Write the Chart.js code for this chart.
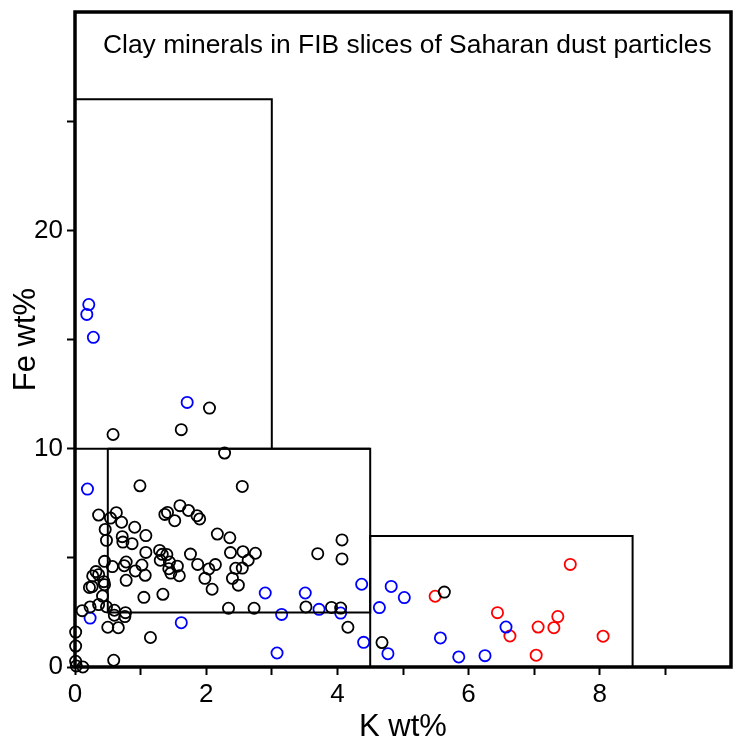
<!DOCTYPE html>
<html>
<head>
<meta charset="utf-8">
<script src="https://cdn.jsdelivr.net/npm/chart.js@4.4.0/dist/chart.umd.min.js"></script>
<style>
  body { margin: 0; background: #fff; }
  #wrap { width: 733px; height: 754px; }
</style>
</head>
<body>
<div id="wrap"><canvas id="myChart" width="733" height="754"></canvas></div>
<script>
// Datos (K wt%, Fe wt%)
const blackK = [0.58, 1.62, 2.05, 2.28, 0.99, 2.55, 0.36, 0.63, 0.54, 0.71, 0.46, 0.48, 0.72, 0.73, 0.87, 0.91,
  1.08, 1.08, 1.37, 1.41, 1.52, 1.60, 1.73, 1.86, 1.90, 2.17, 2.36, 2.37, 2.56, 2.75, 2.64, 2.45, 2.55, 2.40, 2.49,
  3.70, 4.07, 4.07, 1.76, 1.29, 1.33, 1.40, 1.30, 1.44, 1.56, 1.43, 1.46, 1.59, 1.87, 2.04, 2.14, 1.98, 2.09,
  1.02, 1.07, 0.92, 0.78, 0.75, 0.78, 0.57, 0.45, 0.32, 0.27, 0.36, 0.44, 0.45, 0.22, 0.26, 0.42, 0.36, 0.23,
  0.48, 0.11, 0.60, 0.60, 0.77, 0.76, 0.50, 0.66, 1.05, 1.34, 1.15, 0.59, 0.01, 0.01, 0.01, 0.02, 0.12,
  2.34, 2.73, 3.52, 3.91, 4.05, 4.16, 5.63, 4.68];
const blackFe = [10.65, 10.87, 11.86, 9.8, 8.3, 8.27, 6.96, 7.07, 6.82, 6.63, 6.3, 5.8, 5.97, 5.72, 5.65, 6.4,
  6.02, 5.25, 6.99, 7.08, 6.7, 7.39, 7.17, 6.93, 6.78, 6.09, 5.92, 5.24, 5.28, 5.21, 4.89, 4.52, 4.53, 4.06, 3.75,
  5.19, 5.82, 4.95, 5.17, 5.34, 5.16, 5.15, 4.89, 4.81, 4.62, 4.50, 4.30, 4.18, 4.70, 4.49, 4.69, 4.06, 3.56,
  4.67, 4.20, 4.40, 4.81, 4.64, 3.97, 4.60, 4.84, 4.37, 4.17, 4.23, 3.91, 3.77, 3.64, 3.68, 3.25, 2.86, 2.75,
  2.76, 2.58, 2.60, 2.37, 2.49, 2.31, 1.82, 1.80, 3.19, 3.33, 1.35, 0.31, 1.60, 0.96, 0.26, 0.05, 0.00,
  2.69, 2.69, 2.75, 2.73, 2.70, 1.82, 3.43, 1.12];

const blueK = [0.21, 0.18, 0.28, 1.71, 0.19, 0.23, 1.62, 2.90, 3.15, 3.08, 3.51, 3.72, 4.05, 4.37, 4.40, 4.64,
  4.82, 5.02, 4.77, 5.57, 5.85, 6.25, 6.57];
const blueFe = [16.6, 16.15, 15.1, 12.12, 8.15, 2.24, 2.03, 3.39, 2.41, 0.64, 3.39, 2.64, 2.47, 3.79, 1.13, 2.72,
  3.69, 3.18, 0.61, 1.33, 0.46, 0.52, 1.83];

const redK = [5.49, 7.55, 6.44, 6.63, 7.06, 7.03, 7.30, 7.36, 8.05];
const redFe = [3.24, 4.70, 2.49, 1.42, 1.83, 0.54, 1.80, 2.31, 1.41];

// Recuadros de los campos de minerales
const box1K = [0, 0, 3, 3];
const box1Fe = [10, 26, 26, 10];
const box2K = [0.5, 0.5, 4.5, 4.5, 0.5];
const box2Fe = [10, 2.5, 2.5, 10, 10];
const box3K = [4.5, 4.5, 8.5, 8.5];
const box3Fe = [0, 6, 6, 0];
const topLineK = [0, 4.5];
const topLineFe = [10, 10];

const titulo = 'Clay minerals in FIB slices of Saharan dust particles';
const xTickLabels = [0, 2, 4, 6, 8];
const yTickLabels = [0, 10, 20];

const fuente = "'Liberation Sans', Arial, Helvetica, sans-serif";

function pares(xs, ys) {
  return xs.map((x, i) => ({ x: x, y: ys[i] }));
}

function caja(xs, ys) {
  return {
    data: pares(xs, ys),
    showLine: true,
    borderColor: '#000',
    borderWidth: 2,
    pointRadius: 0,
    pointHoverRadius: 0,
    fill: false,
    tension: 0,
    clip: false
  };
}

function puntos(xs, ys, color) {
  return {
    data: pares(xs, ys),
    showLine: false,
    backgroundColor: 'rgba(0,0,0,0)',
    borderColor: color,
    pointBorderWidth: 1.8,
    pointRadius: 5.6,
    pointStyle: 'circle',
    clip: false
  };
}

// quitar el relleno automatico de las escalas para fijar el area del grafico
function sinRelleno(s) {
  s.paddingLeft = 0;
  s.paddingRight = 0;
  s.paddingTop = 0;
  s.paddingBottom = 0;
}

// Marco grueso y titulo interior
const marcoPlugin = {
  id: 'marco',
  beforeDatasetsDraw(chart) {
    const { ctx, chartArea } = chart;
    ctx.save();
    ctx.strokeStyle = '#000';
    ctx.lineWidth = 3.5;
    ctx.strokeRect(chartArea.left, chartArea.top, chartArea.right - chartArea.left, chartArea.bottom - chartArea.top);
    ctx.restore();
  },
  afterDraw(chart) {
    const { ctx, chartArea } = chart;
    ctx.save();
    ctx.fillStyle = '#000';
    ctx.font = '26.4px ' + fuente;
    ctx.textBaseline = 'alphabetic';
    ctx.textAlign = 'left';
    ctx.fillText(titulo, chartArea.left + 28, chartArea.top + 41);
    ctx.restore();
  }
};

const ctx = document.getElementById('myChart').getContext('2d');
const myChart = new Chart(ctx, {
  type: 'scatter',
  data: {
    datasets: [
      caja(box1K, box1Fe),
      caja(box2K, box2Fe),
      caja(box3K, box3Fe),
      caja(topLineK, topLineFe),
      puntos(blackK, blackFe, '#000000'),
      puntos(blueK, blueFe, '#0000ff'),
      puntos(redK, redFe, '#ff0000')
    ]
  },
  options: {
    responsive: false,
    animation: false,
    layout: { autoPadding: false, padding: { top: 12, right: 2, left: 0, bottom: 0 } },
    plugins: {
      legend: { display: false },
      tooltip: { enabled: false }
    },
    scales: {
      x: {
        type: 'linear',
        min: 0,
        max: 10,
        border: { display: false },
        grid: {
          drawOnChartArea: false,
          drawTicks: true,
          tickLength: 8,
          tickWidth: 2,
          color: '#000'
        },
        ticks: {
          stepSize: 1,
          autoSkip: false,
          maxRotation: 0,
          padding: 4,
          color: '#000',
          font: { size: 26, family: fuente },
          callback: (v) => v === 10 ? null : (xTickLabels.includes(v) ? String(v) : '')
        },
        title: {
          display: true,
          text: 'K wt%',
          color: '#000',
          font: { size: 31, family: fuente },
          padding: { top: 0, bottom: 8 }
        },
        afterFit: (s) => { s.height = 87; sinRelleno(s); }
      },
      y: {
        type: 'linear',
        min: 0,
        max: 30,
        border: { display: false },
        grid: {
          drawOnChartArea: false,
          drawTicks: true,
          tickLength: 8,
          tickWidth: 2,
          color: '#000'
        },
        ticks: {
          stepSize: 5,
          autoSkip: false,
          padding: 4,
          color: '#000',
          font: { size: 26, family: fuente },
          callback: (v) => v === 30 ? null : (yTickLabels.includes(v) ? String(v) : '')
        },
        title: {
          display: true,
          text: 'Fe wt%',
          color: '#000',
          font: { size: 31, family: fuente },
          padding: { top: 8, bottom: 0 }
        },
        afterFit: (s) => { s.width = 75; sinRelleno(s); }
      }
    }
  },
  plugins: [marcoPlugin]
});
</script>
</body>
</html>
